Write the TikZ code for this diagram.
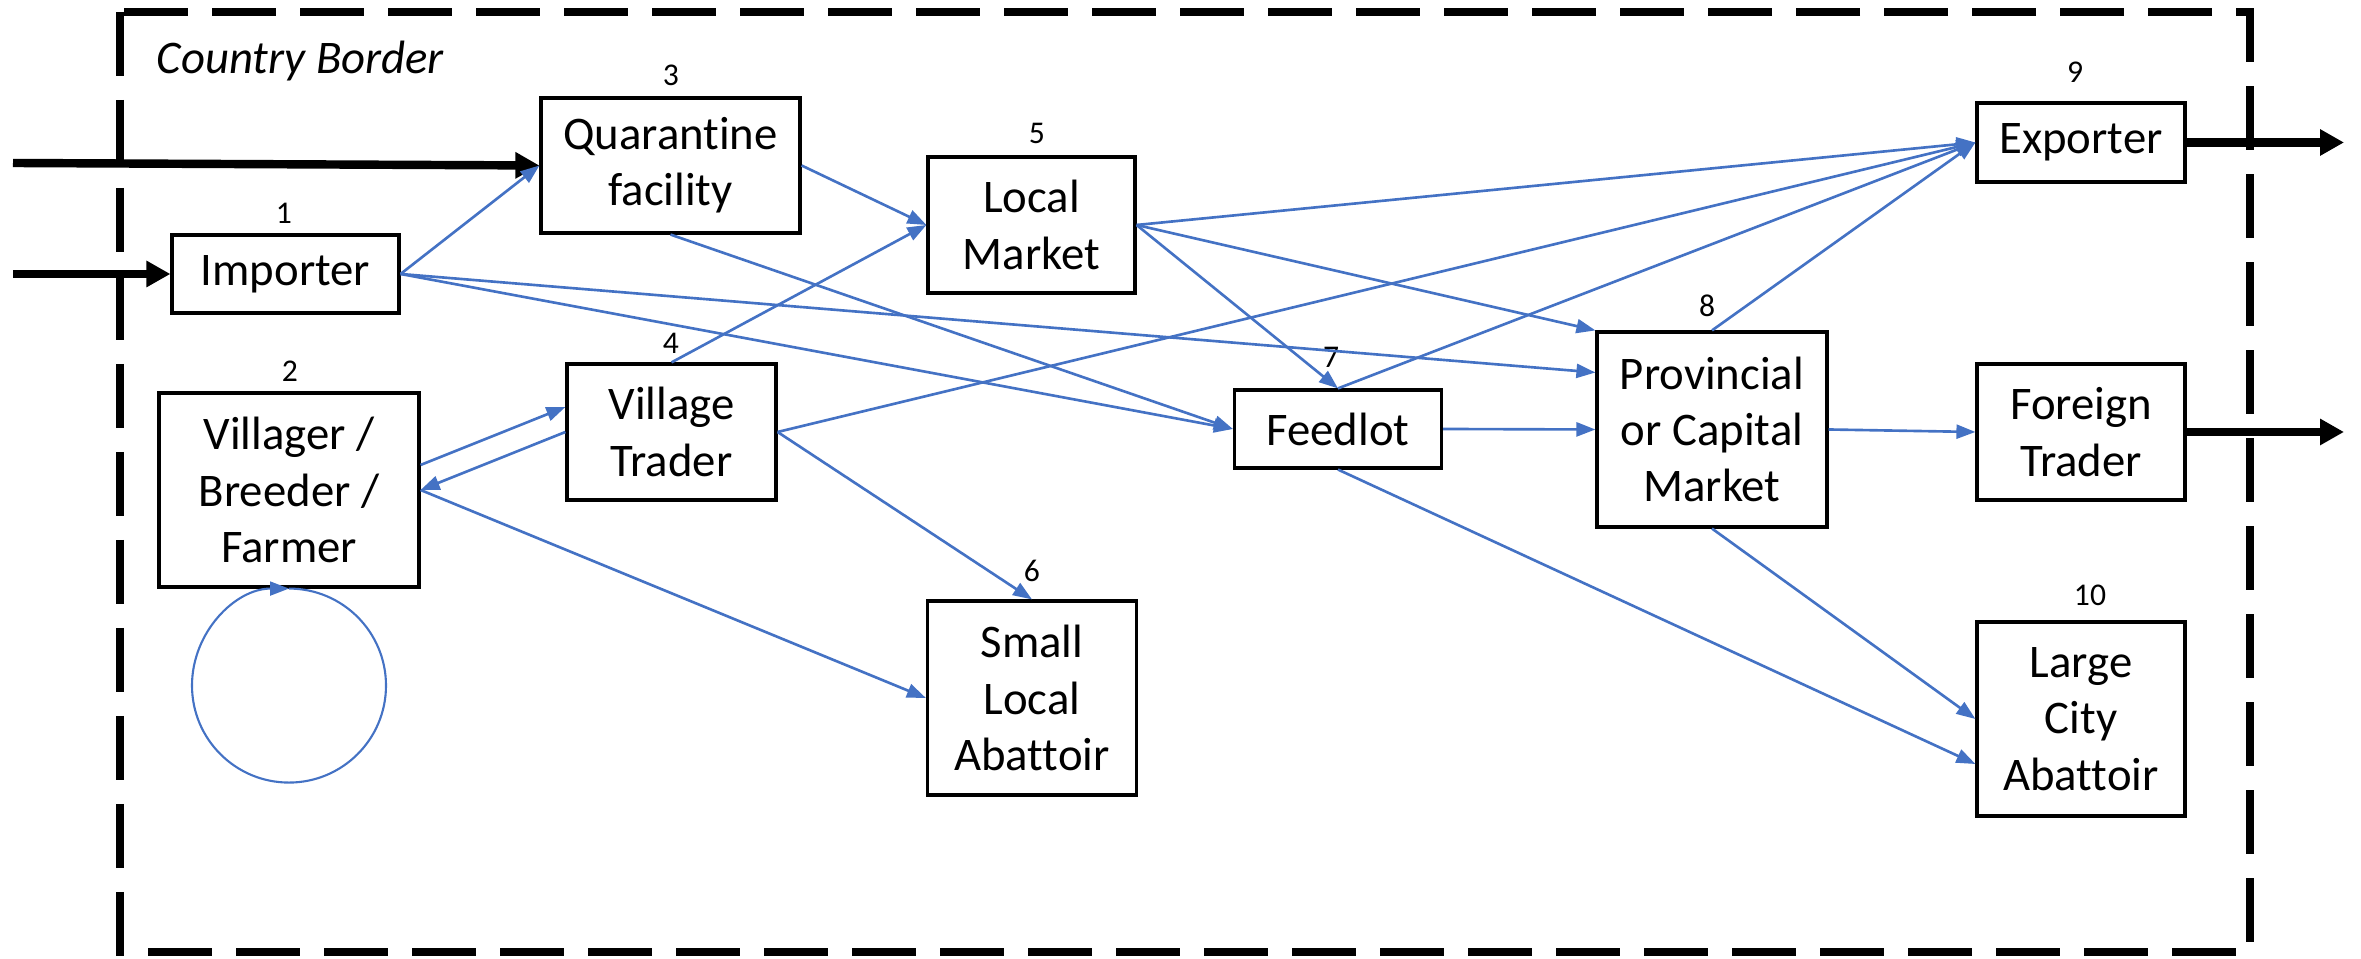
\documentclass[tikz,border=0pt]{standalone}
\usepackage{fontspec}
\setmainfont{Carlito}[Ligatures=NoCommon]
\usetikzlibrary{arrows.meta}
\definecolor{flowblue}{HTML}{4472C4}

\begin{document}
\begin{tikzpicture}[
  box/.style={draw=black, line width=0.9pt, align=center, inner sep=0pt, font=\fontsize{13.3}{16}\selectfont},
  num/.style={inner sep=0pt, font=\fontsize{9}{10}\selectfont},
  flow/.style={draw=flowblue, line width=0.75pt, -{Triangle[length=0.19cm,width=0.14cm]}},
  thickflow/.style={draw=black, line width=2.4pt, -{Triangle[length=0.24cm,width=0.25cm]}},
  border/.style={draw=black, line width=2.1pt, dash pattern=on 0.64cm off 0.24cm}]

\useasboundingbox (0,0) rectangle (23.61,9.59);

\draw[border] (1.20,9.47) rectangle (22.50,0.07);
\node[anchor=base west, inner sep=0pt, font=\fontsize{13.3}{16}\selectfont\itshape] (cb) at (1.56,8.85) {Country Border};

\node[box, minimum width=2.27cm, minimum height=0.78cm] (imp) at (2.855,6.85) {Importer};
\node[box, minimum width=2.59cm, minimum height=1.35cm] (quar) at (6.705,7.935) {Quarantine\\facility};
\node[box, minimum width=2.60cm, minimum height=1.94cm] (vil) at (2.89,4.69) {Villager /\\Breeder /\\Farmer};
\node[box, minimum width=2.09cm, minimum height=1.36cm] (vtr) at (6.715,5.27) {Village\\Trader};
\node[box, minimum width=2.07cm, minimum height=1.36cm] (lmk) at (10.315,7.34) {Local\\Market};
\node[box, minimum width=2.09cm, minimum height=1.94cm] (sla) at (10.32,2.61) {Small\\Local\\Abattoir};
\node[box, minimum width=2.07cm, minimum height=0.78cm] (feed) at (13.38,5.30) {Feedlot};
\node[box, minimum width=2.30cm, minimum height=1.95cm] (prov) at (17.12,5.295) {Provincial\\or Capital\\Market};
\node[box, minimum width=2.08cm, minimum height=0.79cm] (exp) at (20.81,8.165) {Exporter};
\node[box, minimum width=2.08cm, minimum height=1.36cm] (ftr) at (20.81,5.27) {Foreign\\Trader};
\node[box, minimum width=2.08cm, minimum height=1.94cm] (lca) at (20.81,2.40) {Large\\City\\Abattoir};

\node[num] (n1) at (2.84,7.46) {1};
\node[num] (n2) at (2.90,5.88) {2};
\node[num] (n3) at (6.71,8.84) {3};
\node[num] (n4) at (6.71,6.16) {4};
\node[num] (n5) at (10.37,8.26) {5};
\node[num] (n6) at (10.32,3.88) {6};
\node[num] (n7) at (13.31,6.02) {7};
\node[num] (n8) at (17.07,6.53) {8};
\node[num] (n9) at (20.75,8.87) {9};
\node[num] (n10) at (20.90,3.64) {10};

\coordinate (inq) at (0.13,7.96);
\coordinate (ini) at (0.13,6.85);
\coordinate (outx) at (23.44,8.165);
\coordinate (outf) at (23.44,5.27);

\draw[thickflow] (inq) -- (quar.west);
\draw[thickflow] (ini) -- (imp.west);
\draw[thickflow] (exp.east) -- (outx);
\draw[thickflow] (ftr.east) -- (outf);

\draw[flow] (imp.east) -- (quar.west);
\draw[flow] (imp.east) -- ([yshift=0.57cm]prov.west);
\draw[flow] (imp.east) -- (feed.west);
\draw[flow] (quar.east) -- (lmk.west);
\draw[flow] (quar.south) -- (feed.west);
\draw[flow] (vtr.north) -- (lmk.west);
\draw[flow] ([yshift=0.25cm]vil.east) -- ([yshift=0.25cm]vtr.west);
\draw[flow] (vtr.west) -- (vil.east);
\draw[flow] (vil.east) -- (sla.west);
\draw[flow] (vtr.east) -- (sla.north);
\draw[flow] (vtr.east) -- (exp.west);
\draw[flow] (lmk.east) -- (exp.west);
\draw[flow] (lmk.east) -- (prov.north west);
\draw[flow] (lmk.east) -- (feed.north);
\draw[flow] (feed.north) -- (exp.west);
\draw[flow] (feed.east) -- (prov.west);
\draw[flow] (feed.south) -- ([yshift=-0.45cm]lca.west);
\draw[flow] (prov.south) -- (lca.west);
\draw[flow] (prov.north) -- (exp.west);
\draw[flow] (prov.east) -- (ftr.west);
\draw[flow, line width=0.6pt] (vil.south) arc[start angle=90, end angle=-270, radius=0.97];
\end{tikzpicture}
\end{document}
